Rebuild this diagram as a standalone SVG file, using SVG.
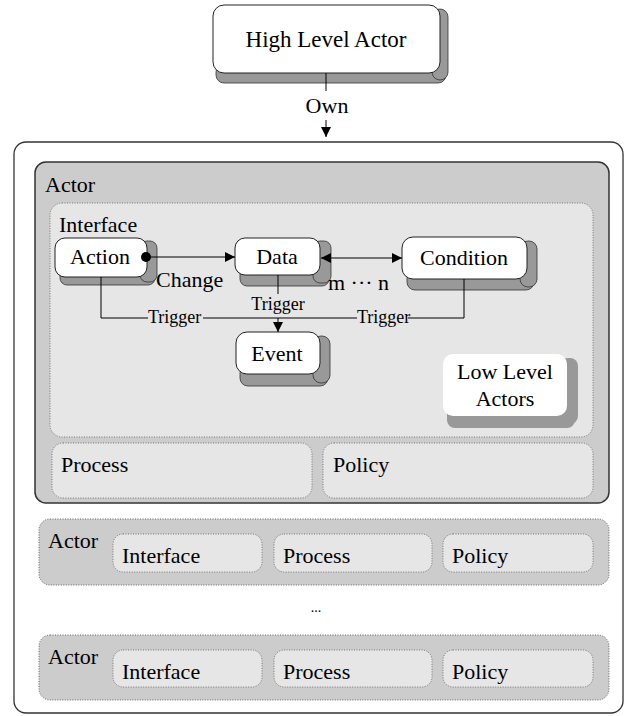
<svg xmlns="http://www.w3.org/2000/svg" width="626" height="716" viewBox="0 0 626 716" font-family="'Liberation Serif', 'DejaVu Serif', serif">
  <defs>
    <marker id="arrow" viewBox="0 0 10 10" refX="10" refY="5" markerWidth="10" markerHeight="10" markerUnits="userSpaceOnUse" orient="auto-start-reverse">
      <path d="M0,0 L10,5 L0,10 z" fill="#000"/>
    </marker>
    <style>
      text { font-family: 'Liberation Serif', 'DejaVu Serif', serif; fill: #000; }
      .lbl { font-size: 22px; }
      .big { font-size: 23px; }
      .sm { font-size: 18px; }
      .tiny { font-size: 14px; }
      .outer { fill: #fff; stroke: #333; stroke-width: 1.3; }
      .actor { fill: #ccc; stroke: #333; stroke-width: 1.5; }
      .actor-dot { fill: #ccc; stroke: #666; stroke-width: 1; stroke-dasharray: 1 1.5; }
      .part { fill: #e6e6e6; stroke: #777; stroke-width: 1; stroke-dasharray: 1 1.5; }
      .node { fill: #fff; stroke: #222; stroke-width: 1; }
      .shadow { fill: #999; stroke: #333; stroke-width: 0.8; }
      .soft-node { fill: #fff; }
      .soft-shadow { fill: #999; }
      .wire { fill: none; stroke: #000; stroke-width: 1; }
    </style>
  </defs>

  <!-- top level actor -->
  <g id="high-level-actor">
    <rect class="shadow" x="216" y="64" width="230" height="19" rx="8"/>
    <rect class="shadow" x="432" y="9" width="16" height="71" rx="8"/>
    <rect class="node" x="213" y="5" width="227" height="68" rx="11"/>
    <text class="big" x="326" y="47" text-anchor="middle">High Level Actor</text>
  </g>

  <!-- container -->
  <g id="container">
    <rect class="outer" x="14" y="142" width="609" height="571" rx="12"/>
  </g>

  <!-- expanded actor -->
  <g id="actor-main">
    <rect class="actor" x="35" y="162" width="574" height="341" rx="11"/>
    <text class="lbl" x="45" y="192">Actor</text>
  </g>
  <g id="interface">
    <rect class="part" x="50" y="203" width="543" height="234" rx="12"/>
    <text class="lbl" x="59" y="232">Interface</text>
  </g>
  <g id="process">
    <rect class="part" x="52" y="443" width="260" height="55" rx="11"/>
    <text class="lbl" x="61" y="472">Process</text>
  </g>
  <g id="policy">
    <rect class="part" x="323" y="443" width="270" height="55" rx="11"/>
    <text class="lbl" x="333" y="472">Policy</text>
  </g>

  <g id="action">
    <rect class="shadow" x="60" y="268" width="95" height="17" rx="7"/>
    <rect class="shadow" x="140" y="241" width="17" height="41" rx="7"/>
    <rect class="node" x="55" y="238" width="92" height="39" rx="10"/>
    <text class="lbl" x="100" y="264" text-anchor="middle">Action</text>
  </g>
  <g id="data">
    <rect class="shadow" x="240" y="266" width="89" height="20" rx="7"/>
    <rect class="shadow" x="313" y="241" width="18" height="42" rx="7"/>
    <rect class="node" x="235" y="238" width="85" height="37" rx="10"/>
    <text class="lbl" x="277" y="264" text-anchor="middle">Data</text>
  </g>
  <g id="condition">
    <rect class="shadow" x="407" y="270" width="127" height="20" rx="8"/>
    <rect class="shadow" x="520" y="241" width="17" height="46" rx="8"/>
    <rect class="node" x="402" y="237" width="125" height="42" rx="11"/>
    <text class="lbl" x="464" y="265" text-anchor="middle">Condition</text>
  </g>
  <g id="event">
    <rect class="shadow" x="240" y="365" width="88" height="21" rx="8"/>
    <rect class="shadow" x="313" y="336" width="17" height="47" rx="8"/>
    <rect class="node" x="236" y="332" width="84" height="42" rx="11"/>
    <text class="lbl" x="277" y="361" text-anchor="middle">Event</text>
  </g>
  <g id="low-level-actors">
    <rect class="soft-shadow" x="447" y="405" width="128" height="23" rx="8"/>
    <rect class="soft-shadow" x="560" y="358" width="18" height="66" rx="8"/>
    <rect class="soft-node" x="443" y="354" width="124" height="62" rx="10"/>
    <text class="lbl" x="505" y="379" text-anchor="middle">Low Level</text>
    <text class="lbl" x="505" y="406" text-anchor="middle">Actors</text>
  </g>

  <!-- collapsed actors -->
  <g id="actor-2">
    <rect class="actor-dot" x="39" y="519" width="570" height="66" rx="11"/>
    <text class="lbl" x="48" y="548">Actor</text>
    <rect class="part" x="113" y="534" width="149" height="38" rx="10"/>
    <text class="lbl" x="122" y="563">Interface</text>
    <rect class="part" x="274" y="534" width="158" height="38" rx="10"/>
    <text class="lbl" x="283" y="563">Process</text>
    <rect class="part" x="443" y="534" width="150" height="38" rx="10"/>
    <text class="lbl" x="452" y="563">Policy</text>
  </g>
  <text class="tiny" x="316" y="612" text-anchor="middle">...</text>
  <g id="actor-n">
    <rect class="actor-dot" x="39" y="635" width="570" height="65" rx="11"/>
    <text class="lbl" x="48" y="664">Actor</text>
    <rect class="part" x="113" y="650" width="149" height="37" rx="10"/>
    <text class="lbl" x="122" y="679">Interface</text>
    <rect class="part" x="274" y="650" width="158" height="37" rx="10"/>
    <text class="lbl" x="283" y="679">Process</text>
    <rect class="part" x="443" y="650" width="150" height="37" rx="10"/>
    <text class="lbl" x="452" y="679">Policy</text>
  </g>

  <!-- connectors -->
  <g id="connectors">
    <path class="wire" d="M326 73 V91"/>
    <path class="wire" d="M326 120 V137" marker-end="url(#arrow)"/>
    <text class="lbl" x="327" y="113" text-anchor="middle">Own</text>

    <circle cx="146" cy="257" r="5" fill="#000"/>
    <path class="wire" d="M146 257 H235" marker-end="url(#arrow)"/>
    <text class="lbl" x="156" y="287">Change</text>

    <path class="wire" d="M321 258 H402" marker-start="url(#arrow)" marker-end="url(#arrow)"/>
    <text class="lbl" x="328" y="290">m ··· n</text>

    <path class="wire" d="M101 277 V318 H148"/>
    <path class="wire" d="M203 318 H357"/>
    <path class="wire" d="M408 318 H464 V279"/>
    <path class="wire" d="M278 275 V294"/>
    <path class="wire" d="M278 318 V332" marker-end="url(#arrow)"/>
    <text class="sm" x="148" y="323">Trigger</text>
    <text class="sm" x="357" y="323">Trigger</text>
    <text class="sm" x="278" y="310" text-anchor="middle">Trigger</text>
  </g>
</svg>
